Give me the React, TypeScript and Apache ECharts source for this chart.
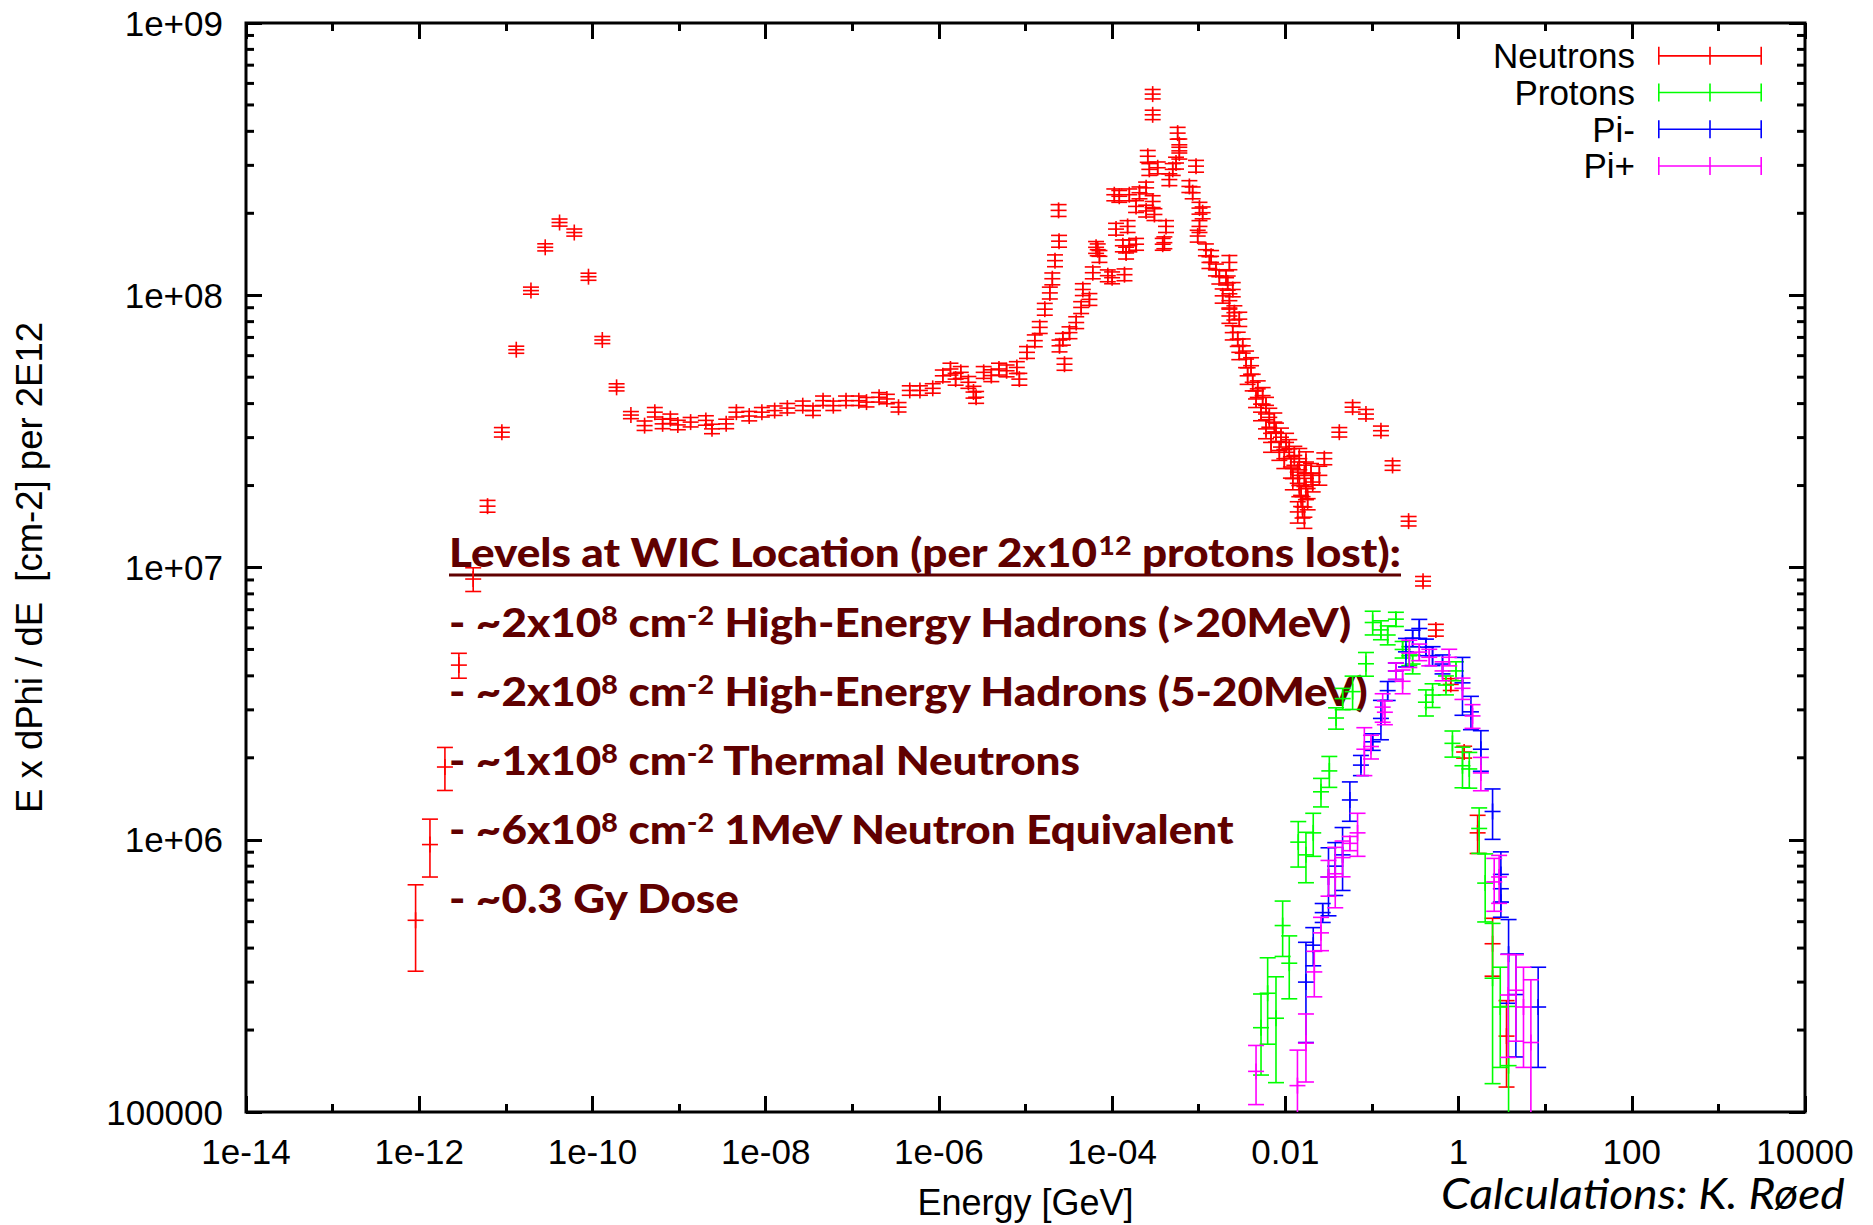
import React, { useEffect, useRef } from 'react';
import * as echarts from 'echarts';

type Pt = [number, number, number]; // [energy (GeV), E x dPhi/dE, relative half error]

const xTickLabels = ['1e-14', '1e-12', '1e-10', '1e-08', '1e-06', '1e-04', '0.01', '1', '100', '10000'];
const yTickLabels = ['100000', '1e+06', '1e+07', '1e+08', '1e+09'];
const seriesNames = ['Neutrons', 'Protons', 'Pi-', 'Pi+'];
const seriesColors = ['#ff0000', '#00ff00', '#0000ff', '#ff00ff'];

const neutrons: Pt[] = [
  [9.08e-13, 5.06e5, 0.35], [1.33e-12, 9.6e5, 0.24], [1.98e-12, 1.85e6, 0.18], [2.87e-12, 4.38e6, 0.105],
  [4.2e-12, 9.07e6, 0.1], [6.15e-12, 1.68e7, 0.05], [9.0e-12, 3.14e7, 0.04], [1.32e-11, 6.31e7, 0.03],
  [1.95e-11, 1.04e8, 0.03], [2.85e-11, 1.5e8, 0.03], [4.17e-11, 1.85e8, 0.03], [6.17e-11, 1.7e8, 0.03],
  [9.0e-11, 1.17e8, 0.03], [1.3e-10, 6.85e7, 0.03], [1.9e-10, 4.59e7, 0.03], [2.78e-10, 3.63e7, 0.03],
  [4.0e-10, 3.32e7, 0.04], [5.25e-10, 3.72e7, 0.04], [6.46e-10, 3.37e7, 0.04], [7.94e-10, 3.52e7, 0.04],
  [9.68e-10, 3.34e7, 0.04], [1.36e-9, 3.42e7, 0.04], [2.04e-9, 3.47e7, 0.04], [2.4e-9, 3.23e7, 0.04],
  [3.5e-9, 3.37e7, 0.04], [4.59e-9, 3.72e7, 0.04], [6.46e-9, 3.6e7, 0.04], [9.04e-9, 3.72e7, 0.04],
  [1.27e-8, 3.77e7, 0.04], [1.78e-8, 3.85e7, 0.04], [2.68e-8, 3.93e7, 0.04], [3.52e-8, 3.77e7, 0.04],
  [4.6e-8, 4.1e7, 0.04], [6.04e-8, 3.93e7, 0.04], [8.47e-8, 4.1e7, 0.04], [1.19e-7, 4.1e7, 0.04],
  [1.46e-7, 4.05e7, 0.04], [2.04e-7, 4.22e7, 0.04], [2.51e-7, 4.16e7, 0.04], [3.42e-7, 3.88e7, 0.04],
  [4.61e-7, 4.47e7, 0.04], [6.04e-7, 4.47e7, 0.04], [8.49e-7, 4.55e7, 0.04], [1.11e-6, 5.06e7, 0.05],
  [1.36e-6, 5.36e7, 0.05], [1.56e-6, 4.92e7, 0.05], [1.79e-6, 5.21e7, 0.05], [2.19e-6, 4.79e7, 0.05],
  [2.51e-6, 4.41e7, 0.05], [2.69e-6, 4.22e7, 0.05], [3.29e-6, 5.21e7, 0.05], [4.03e-6, 5.07e7, 0.05],
  [4.94e-6, 5.36e7, 0.05], [6.05e-6, 5.28e7, 0.05], [7.94e-6, 5.43e7, 0.05], [8.49e-6, 4.92e7, 0.05],
  [1.04e-5, 6.17e7, 0.05], [1.28e-5, 6.81e7, 0.05], [1.46e-5, 7.62e7, 0.05], [1.67e-5, 8.89e7, 0.05],
  [1.91e-5, 1.02e8, 0.05], [2.04e-5, 1.15e8, 0.05], [2.19e-5, 1.34e8, 0.05], [2.44e-5, 1.58e8, 0.05],
  [2.41e-5, 2.05e8, 0.05], [2.47e-5, 6.52e7, 0.05], [2.7e-5, 6.9e7, 0.05], [2.82e-5, 5.58e7, 0.05],
  [3.22e-5, 7.29e7, 0.05], [3.85e-5, 7.94e7, 0.05], [4.39e-5, 9.02e7, 0.05], [4.59e-5, 1.05e8, 0.05],
  [5.47e-5, 9.66e7, 0.05], [5.98e-5, 1.21e8, 0.05], [6.53e-5, 1.5e8, 0.05], [6.82e-5, 1.47e8, 0.05],
  [7.14e-5, 1.39e8, 0.05], [8.91e-5, 1.18e8, 0.05], [1.0e-4, 1.16e8, 0.05], [1.06e-4, 2.34e8, 0.05],
  [1.11e-4, 1.75e8, 0.05], [1.21e-4, 2.31e8, 0.05], [1.33e-4, 1.52e8, 0.05], [1.39e-4, 1.19e8, 0.05],
  [1.45e-4, 1.43e8, 0.05], [1.51e-4, 1.79e8, 0.05], [1.58e-4, 2.34e8, 0.05], [1.58e-4, 1.52e8, 0.05],
  [1.89e-4, 1.54e8, 0.05], [1.89e-4, 2.12e8, 0.05], [2.07e-4, 2.38e8, 0.05], [2.47e-4, 2.48e8, 0.05],
  [2.47e-4, 2.04e8, 0.05], [2.58e-4, 3.24e8, 0.05], [2.69e-4, 2.9e8, 0.05], [2.94e-4, 2.21e8, 0.05],
  [2.94e-4, 5.48e8, 0.04], [2.94e-4, 4.6e8, 0.04], [3.08e-4, 1.98e8, 0.05], [3.36e-4, 2.94e8, 0.05],
  [3.84e-4, 1.54e8, 0.05], [4.01e-4, 1.56e8, 0.05], [4.19e-4, 1.79e8, 0.05], [4.58e-4, 2.66e8, 0.05],
  [5.01e-4, 2.9e8, 0.05], [5.47e-4, 3.06e8, 0.05], [5.71e-4, 3.94e8, 0.05], [5.97e-4, 3.33e8, 0.05],
  [5.97e-4, 3.57e8, 0.05], [7.8e-4, 2.51e8, 0.05], [8.51e-4, 2.38e8, 0.05], [9.31e-4, 2.98e8, 0.05],
  [1.02e-3, 2.09e8, 0.05], [1.02e-3, 1.79e8, 0.05], [1.11e-3, 2.01e8, 0.05], [9.73e-4, 1.65e8, 0.05],
  [1.21e-3, 1.47e8, 0.05], [1.33e-3, 1.32e8, 0.05], [1.39e-3, 1.39e8, 0.05], [1.58e-3, 1.24e8, 0.05],
  [1.73e-3, 1.17e8, 0.06], [1.89e-3, 9.95e7, 0.06], [2.07e-3, 1.16e8, 0.06], [2.16e-3, 1.11e8, 0.06],
  [2.26e-3, 1.32e8, 0.06], [2.26e-3, 9.55e7, 0.06], [2.47e-3, 1.05e8, 0.06], [2.26e-3, 8.39e7, 0.06],
  [2.58e-3, 8.63e7, 0.06], [2.94e-3, 8.17e7, 0.06], [2.47e-3, 7.29e7, 0.06], [2.82e-3, 6.9e7, 0.06],
  [3.22e-3, 6.52e7, 0.06], [2.94e-3, 6.17e7, 0.06], [3.52e-3, 5.83e7, 0.07], [4.02e-3, 5.51e7, 0.07],
  [3.67e-3, 5.06e7, 0.07], [4.2e-3, 4.79e7, 0.07], [4.8e-3, 4.53e7, 0.07], [4.59e-3, 4.16e7, 0.07],
  [5.47e-3, 4.28e7, 0.07], [5.98e-3, 3.94e7, 0.07], [5.24e-3, 3.72e7, 0.07], [6.53e-3, 3.56e7, 0.08],
  [7.46e-3, 3.42e7, 0.08], [5.98e-3, 3.23e7, 0.08], [7.8e-3, 3.14e7, 0.08], [8.91e-3, 3.01e7, 0.08],
  [6.84e-3, 2.88e7, 0.08], [1.02e-2, 2.88e7, 0.08], [8.53e-3, 2.69e7, 0.08], [1.11e-2, 2.73e7, 0.08],
  [1.27e-2, 2.58e7, 0.08], [9.73e-3, 2.51e7, 0.08], [1.45e-2, 2.51e7, 0.09], [1.73e-2, 2.44e7, 0.09],
  [1.16e-2, 2.34e7, 0.09], [1.39e-2, 2.24e7, 0.09], [1.66e-2, 2.18e7, 0.09], [1.98e-2, 2.21e7, 0.09],
  [1.22e-2, 2.12e7, 0.09], [1.45e-2, 2.0e7, 0.09], [1.73e-2, 1.95e7, 0.09], [1.52e-2, 1.84e7, 0.09],
  [1.81e-2, 1.79e7, 0.09], [1.58e-2, 1.67e7, 0.09], [1.39e-2, 1.6e7, 0.09], [1.66e-2, 1.53e7, 0.09],
  [2.07e-2, 2.06e7, 0.08], [2.47e-2, 2.18e7, 0.08], [2.82e-2, 2.51e7, 0.05], [4.2e-2, 3.14e7, 0.04],
  [5.98e-2, 3.88e7, 0.04], [8.53e-2, 3.66e7, 0.04], [0.127, 3.18e7, 0.04], [0.173, 2.37e7, 0.04],
  [0.265, 1.48e7, 0.04], [0.389, 8.91e6, 0.04], [0.547, 5.89e6, 0.05], [0.813, 3.72e6, 0.05],
  [1.16, 2.1e6, 0.05], [1.66, 1.06e6, 0.16], [2.47, 4.15e5, 0.24], [3.58, 1.9e5, 0.35],
];

const protons: Pt[] = [
  [5.24e-3, 2.04e5, 0.33], [6.25e-3, 2.73e5, 0.35], [7.8e-3, 2.21e5, 0.42], [9.31e-3, 4.84e5, 0.23],
  [1.11e-2, 3.52e5, 0.26], [1.41e-2, 9.8e5, 0.19], [1.73e-2, 8.8e5, 0.21], [2.1e-2, 1.06e6, 0.18],
  [2.58e-2, 1.5e6, 0.12], [3.22e-2, 1.79e6, 0.13], [3.85e-2, 2.8e6, 0.09], [4.59e-2, 3.3e6, 0.09],
  [5.98e-2, 3.5e6, 0.14], [8.53e-2, 4.43e6, 0.1], [0.102, 6.28e6, 0.1], [0.127, 5.9e6, 0.08],
  [0.152, 5.65e6, 0.08], [0.189, 6.46e6, 0.06], [0.226, 5.0e6, 0.07], [0.27, 4.74e6, 0.08],
  [0.295, 4.42e6, 0.08], [0.42, 3.2e6, 0.11], [0.501, 3.4e6, 0.1], [0.715, 3.7e6, 0.08],
  [0.933, 4.17e6, 0.08], [0.85, 2.26e6, 0.11], [1.11, 1.87e6, 0.17], [1.33, 1.82e6, 0.15],
  [1.73, 1.1e6, 0.19], [2.03, 6.93e5, 0.28], [2.47, 3.1e5, 0.59], [3.03, 2.43e5, 0.4],
  [3.78, 1.48e5, 0.65],
];

const piMinus: Pt[] = [
  [1.73e-2, 3.0e5, 0.4], [2.1e-2, 4.1e5, 0.16], [2.7e-2, 5.4e5, 0.08], [3.15e-2, 7.3e5, 0.28],
  [3.77e-2, 8.0e5, 0.22], [4.58e-2, 8.8e5, 0.26], [5.56e-2, 1.4e6, 0.165], [7.46e-2, 1.88e6, 0.085],
  [0.102, 2.29e6, 0.07], [0.127, 2.79e6, 0.165], [0.152, 3.53e6, 0.08], [0.189, 4.17e6, 0.07],
  [0.247, 4.9e6, 0.12], [0.295, 5.5e6, 0.07], [0.352, 5.97e6, 0.08], [0.42, 5.1e6, 0.07],
  [0.501, 4.74e6, 0.08], [0.653, 4.42e6, 0.08], [1.11, 3.77e6, 0.24], [1.39, 2.95e6, 0.14],
  [1.81, 2.15e6, 0.17], [2.47, 1.27e6, 0.21], [3.08, 7.46e5, 0.21], [3.08, 5.9e5, 0.12],
  [3.78, 3.8e5, 0.34], [4.59, 2.7e5, 0.41], [8.3, 2.43e5, 0.4],
];

const piPlus: Pt[] = [
  [4.59e-3, 1.41e5, 0.245], [1.38e-2, 1.25e5, 0.35], [1.73e-2, 1.79e5, 0.28], [2.16e-2, 3.27e5, 0.19],
  [2.58e-2, 4.55e5, 0.14], [3.15e-2, 7.3e5, 0.15], [3.77e-2, 7.5e5, 0.25], [4.58e-2, 8.6e5, 0.15],
  [5.56e-2, 9.7e5, 0.06], [6.82e-2, 1.06e6, 0.18], [8.17e-2, 2.15e6, 0.2], [9.75e-2, 2.2e6, 0.1],
  [0.133, 3.07e6, 0.12], [0.141, 2.94e6, 0.1], [0.189, 4.17e6, 0.07], [0.226, 3.82e6, 0.1],
  [0.27, 4.85e6, 0.115], [0.352, 4.89e6, 0.07], [0.459, 4.68e6, 0.07], [0.653, 4.17e6, 0.08],
  [0.78, 4.68e6, 0.07], [1.11, 3.6e6, 0.09], [1.45, 2.85e6, 0.1], [1.81, 1.76e6, 0.14],
  [2.58, 7.0e5, 0.22], [2.94, 7.3e5, 0.2], [3.74, 2.69e5, 0.41], [4.59, 2.8e5, 0.35],
  [5.62, 2.43e5, 0.4], [6.84, 1.8e5, 0.7],
];

const allSeries = [neutrons, protons, piMinus, piPlus];

// Annotation text (segments: m = main, s = superscript)
const annotationLines: [string, string][][] = [
  [['m', 'Levels at WIC Location (per 2x10'], ['s', '12'], ['m', ' protons lost):']],
  [['m', '- ~2x10'], ['s', '8'], ['m', ' cm'], ['s', '-2'], ['m', ' High-Energy Hadrons (>20MeV)']],
  [['m', '- ~2x10'], ['s', '8'], ['m', ' cm'], ['s', '-2'], ['m', ' High-Energy Hadrons (5-20MeV)']],
  [['m', '- ~1x10'], ['s', '8'], ['m', ' cm'], ['s', '-2'], ['m', ' Thermal Neutrons']],
  [['m', '- ~6x10'], ['s', '8'], ['m', ' cm'], ['s', '-2'], ['m', ' 1MeV Neutron Equivalent']],
  [['m', '- ~0.3 Gy Dose']],
];
const creditText = 'Calculations: K. Røed';

const AXIS_FONT = "'Liberation Sans', Arial, Helvetica, sans-serif";
const NOTE_FONT = "Lato, 'Open Sans', sans-serif";
const NOTE_COLOR = '#600000';
const NOTE_WEIGHT = 900;

const GRID = { left: 246, top: 23, width: 1559, height: 1092 };

function toRows(pts: Pt[]) {
  return pts.map(([e, v, err]) => [
    Math.log10(e),
    Math.log10(v),
    Math.log10(Math.max(v * (1 - err), 1)),
    Math.log10(v * (1 + err)),
  ]);
}

function errRenderer(color: string) {
  return (_params: any, api: any) => {
    const x = api.value(0);
    const c = api.coord([x, api.value(1)]);
    const lo = api.coord([x, api.value(2)]);
    const hi = api.coord([x, api.value(3)]);
    const w = 8;
    const style = { stroke: color, lineWidth: 1.6, fill: 'none' };
    const seg = (x1: number, y1: number, x2: number, y2: number) => ({
      type: 'line', shape: { x1, y1, x2, y2 }, style,
    });
    return {
      type: 'group',
      children: [
        seg(c[0], hi[1], c[0], lo[1]),
        seg(c[0] - w, hi[1], c[0] + w, hi[1]),
        seg(c[0] - w, lo[1], c[0] + w, lo[1]),
        seg(c[0] - w, c[1], c[0] + w, c[1]),
        seg(c[0], c[1] - w, c[0], c[1] + w),
      ],
    };
  };
}

function buildOption() {
  const ctx = document.createElement('canvas').getContext('2d')!;
  const S = 40;
  const SUP = 26;
  const measure = (segs: [string, string][]) =>
    segs.reduce((acc, [k, t]) => {
      ctx.font = `${NOTE_WEIGHT} ${k === 'm' ? S : SUP}px ${NOTE_FONT}`;
      return acc + ctx.measureText(t).width;
    }, 0);
  const sx = 952 / measure(annotationLines[0]);
  const baselines = [567, 637, 706, 775, 844, 913];

  const S2 = 42;
  ctx.font = `italic ${S2}px ${NOTE_FONT}`;
  const sx2 = 404 / ctx.measureText(creditText).width;

  const rich = {
    m: { fontFamily: NOTE_FONT, fontWeight: NOTE_WEIGHT, fontSize: S, lineHeight: S, fill: NOTE_COLOR, color: NOTE_COLOR },
    s: { fontFamily: NOTE_FONT, fontWeight: NOTE_WEIGHT, fontSize: SUP, lineHeight: 20, verticalAlign: 'top', fill: NOTE_COLOR, color: NOTE_COLOR },
  };

  const graphics: any[] = annotationLines.map((segs, i) => ({
    type: 'text',
    x: 449,
    y: baselines[i] - 0.887 * S,
    scaleX: sx,
    z: 0,
    style: {
      text: segs.map(([k, t]) => `{${k}|${t}}`).join(''),
      rich,
      align: 'left',
      verticalAlign: 'top',
    },
  }));
  graphics.push({
    type: 'line',
    shape: { x1: 449, y1: 575, x2: 1401, y2: 575 },
    style: { stroke: NOTE_COLOR, lineWidth: 3 },
    z: 0,
  });
  graphics.push({
    type: 'text',
    x: 1441,
    y: 1209 - 0.887 * S2,
    scaleX: sx2,
    style: {
      text: creditText,
      fontFamily: NOTE_FONT,
      fontStyle: 'italic',
      fontSize: S2,
      lineHeight: S2,
      fill: '#000',
      align: 'left',
      verticalAlign: 'top',
    },
  });

  const minorY: number[][] = [];
  for (let n = 5; n < 9; n++) for (let k = 2; k <= 9; k++) minorY.push([-14, n + Math.log10(k)]);

  const tickStyle = { color: '#000', width: 3 };
  const baseX = {
    type: 'value', min: -14, max: 4, interval: 2,
    axisLine: { show: false, onZero: false },
    splitLine: { show: false },
    axisTick: { show: true, inside: true, length: 16, lineStyle: tickStyle },
    minorTick: { show: true, splitNumber: 2, length: 8, lineStyle: tickStyle },
  };
  const baseY = {
    type: 'value', min: 5, max: 9, interval: 1,
    axisLine: { show: false, onZero: false },
    splitLine: { show: false },
    axisTick: { show: true, inside: true, length: 16, lineStyle: tickStyle },
  };
  const labelStyle = { fontFamily: AXIS_FONT, fontSize: 35, color: '#000' };

  return {
    animation: false,
    backgroundColor: '#fff',
    grid: { ...GRID, show: true, borderColor: '#000', borderWidth: 3, backgroundColor: 'transparent' },
    xAxis: [
      {
        ...baseX, position: 'bottom',
        axisLabel: { ...labelStyle, margin: 22, formatter: (v: number) => xTickLabels[Math.round((v + 14) / 2)] ?? '' },
        name: 'Energy [GeV]', nameLocation: 'middle', nameGap: 72,
        nameTextStyle: { fontFamily: AXIS_FONT, fontSize: 36, color: '#000' },
      },
      { ...baseX, position: 'top', axisLabel: { show: false } },
    ],
    yAxis: [
      {
        ...baseY, position: 'left',
        axisLabel: { ...labelStyle, margin: 23, formatter: (v: number) => yTickLabels[Math.round(v - 5)] ?? '' },
        name: 'E x dPhi / dE  [cm-2] per 2E12', nameLocation: 'middle', nameGap: 198,
        nameTextStyle: { fontFamily: AXIS_FONT, fontSize: 36.5, color: '#000' },
      },
      { ...baseY, position: 'right', axisLabel: { show: false } },
    ],
    legend: {
      data: seriesNames.map((name) => ({
        name,
        icon: 'path://M0,0h1.6v8.2h49.6V0h1.6v8.2h49.6V0H104V18h-1.6V9.8H52.8V18h-1.6V9.8H1.6V18H0Z',
      })),
      orient: 'vertical',
      right: 111,
      top: 37.5,
      align: 'right',
      itemWidth: 104,
      itemHeight: 18,
      itemGap: 0,
      padding: 0,
      selectedMode: false,
      textStyle: { fontFamily: AXIS_FONT, fontSize: 35, color: '#000', lineHeight: 36.7, padding: [0, 18, 0, 0] },
    },
    graphic: graphics,
    series: [
      {
        type: 'custom', name: 'yMinor', silent: true, clip: false,
        data: minorY,
        renderItem: (_p: any, api: any) => {
          const v = api.value(1);
          const l = api.coord([-14, v]);
          const r = api.coord([4, v]);
          const st = { stroke: '#000', lineWidth: 3 };
          return {
            type: 'group',
            children: [
              { type: 'line', shape: { x1: l[0], y1: l[1], x2: l[0] + 8, y2: l[1] }, style: st },
              { type: 'line', shape: { x1: r[0] - 8, y1: r[1], x2: r[0], y2: r[1] }, style: st },
            ],
          };
        },
      },
      ...allSeries.map((pts, i) => ({
        type: 'custom',
        name: seriesNames[i],
        clip: true,
        silent: true,
        itemStyle: { color: seriesColors[i] },
        encode: { x: 0, y: 1 },
        data: toRows(pts),
        renderItem: errRenderer(seriesColors[i]),
        z: 3 + i,
      })),
    ],
  };
}

export default function App() {
  const ref = useRef<HTMLDivElement>(null);
  useEffect(() => {
    const chart = echarts.init(ref.current!, null, { renderer: 'svg' });
    chart.setOption(buildOption() as any);
    return () => chart.dispose();
  }, []);
  return (
    <div
      ref={ref}
      style={{ position: 'absolute', left: 0, top: 0, width: 1873, height: 1225, background: '#fff' }}
    />
  );
}
